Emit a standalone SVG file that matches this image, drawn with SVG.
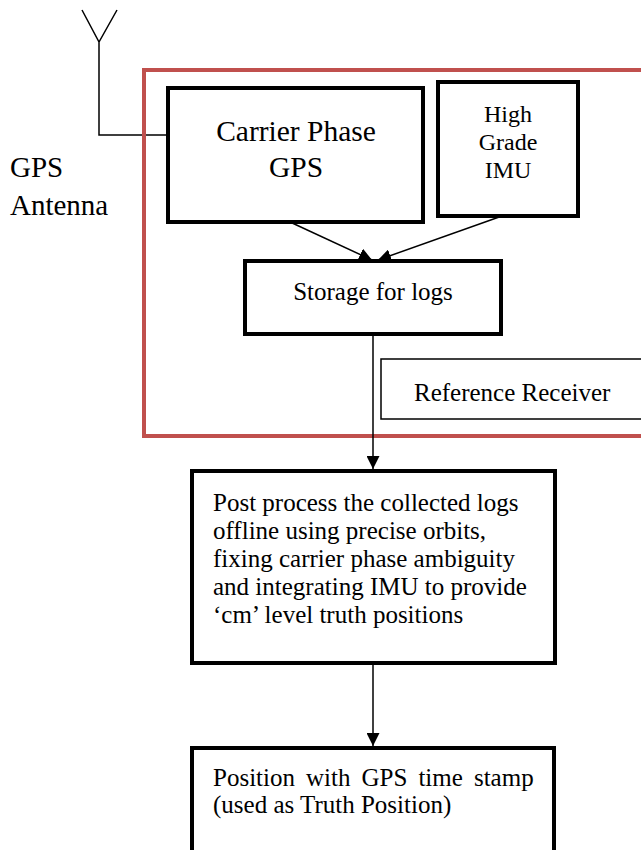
<svg xmlns="http://www.w3.org/2000/svg" width="641" height="850" viewBox="0 0 641 850">
<style>
text{font-family:"Liberation Serif","Times New Roman",serif;fill:#000}
.box{fill:#fff;stroke:#000;stroke-width:4}
.thin{fill:#fff;stroke:#000;stroke-width:1.5}
.red{fill:none;stroke:#C0504D;stroke-width:4}
.con{fill:none;stroke:#000;stroke-width:1.5}
.c{text-anchor:middle}
</style>
<defs>
<marker id="ah" markerWidth="13" markerHeight="13" refX="10" refY="5" orient="auto" markerUnits="userSpaceOnUse" viewBox="0 0 10 10">
<path d="M0,0 L10,5 L0,10 z" fill="#000"/>
</marker>
</defs>
<rect width="641" height="850" fill="#fff"/>
<g id="antenna">
<path class="con" d="M82,10 L99,42 L117,10 M99,42 L99,135 L168,135"/>
<text x="10" y="177" font-size="29">GPS</text>
<text x="10" y="215" font-size="29">Antenna</text>
</g>
<g id="reference-receiver-frame">
<rect class="red" x="144" y="70" width="520" height="366"/>
</g>
<g id="carrier-phase-gps">
<rect class="box" x="168" y="88" width="255" height="134"/>
<text class="c" x="296" y="141" font-size="29.5">Carrier Phase</text>
<text class="c" x="296" y="177" font-size="29.5">GPS</text>
</g>
<g id="high-grade-imu">
<rect class="box" x="438" y="82" width="140" height="134"/>
<text class="c" x="508" y="122" font-size="24">High</text>
<text class="c" x="508" y="150" font-size="24">Grade</text>
<text class="c" x="508" y="178" font-size="24">IMU</text>
</g>
<g id="storage">
<rect class="box" x="245" y="261" width="256" height="73"/>
<text class="c" x="373" y="300" font-size="25">Storage for logs</text>
</g>
<g id="reference-receiver-label">
<rect class="thin" x="381" y="359" width="280" height="60"/>
<text x="414" y="401" font-size="25">Reference Receiver</text>
</g>
<g id="post-process">
<rect class="box" x="192" y="471" width="363" height="192"/>
<text x="213" y="511" font-size="25">Post process the collected logs</text>
<text x="213" y="539" font-size="25">offline using precise orbits,</text>
<text x="213" y="567" font-size="25">fixing carrier phase ambiguity</text>
<text x="213" y="595" font-size="25">and integrating IMU to provide</text>
<text x="213" y="623" font-size="25">‘cm’ level truth positions</text>
</g>
<g id="truth-position">
<rect class="box" x="192" y="748" width="362" height="120"/>
<text x="213" y="786" font-size="25" word-spacing="4.8">Position with GPS time stamp</text>
<text x="213" y="813" font-size="25">(used as Truth Position)</text>
</g>
<g id="connectors">
<path class="con" d="M290,222 L372,260" marker-end="url(#ah)"/>
<path class="con" d="M502,216 L378,260" marker-end="url(#ah)"/>
<path class="con" d="M373,334 L373,469" marker-end="url(#ah)"/>
<path class="con" d="M373,663 L373,746" marker-end="url(#ah)"/>
</g>
</svg>
